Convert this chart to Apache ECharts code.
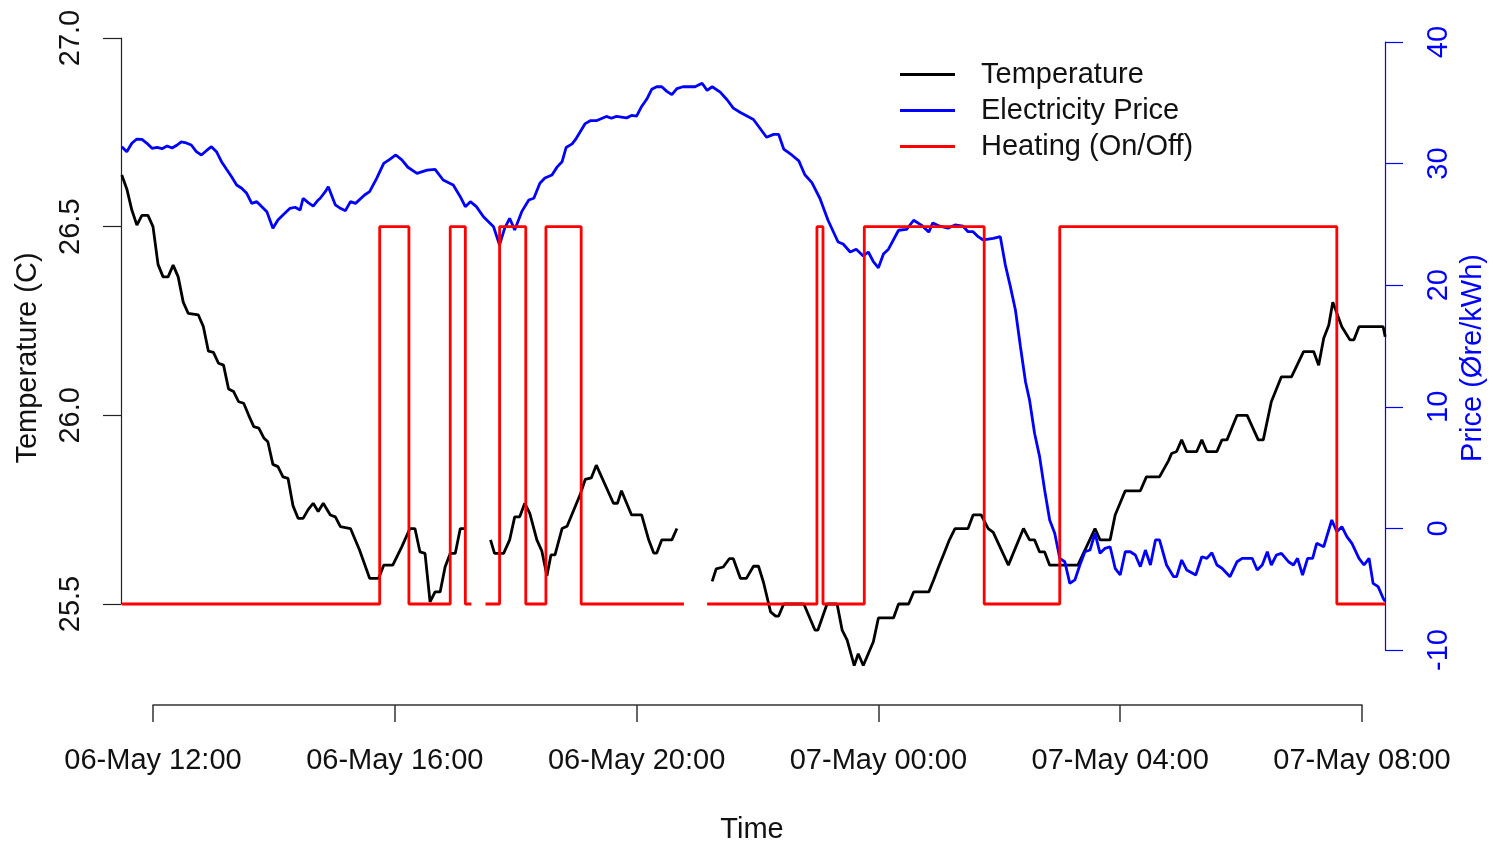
<!DOCTYPE html>
<html><head><meta charset="utf-8">
<script src="https://cdn.jsdelivr.net/npm/echarts@6/dist/echarts.min.js"></script>
<style>html,body{margin:0;padding:0;background:#fff}#c{width:1493px;height:846px}</style>
</head><body><div id="c"></div>
<script>
// x values: minutes after 06-May 12:00
const xTickLabels = ['06-May 12:00','06-May 16:00','06-May 20:00','07-May 00:00','07-May 04:00','07-May 08:00'];
const tempTickLabels = ['25.5','26.0','26.5','27.0'];
const priceTickLabels = ['-10','0','10','20','30','40'];

const tempMinutes = [-31,-26,-21,-16,-11,-5,0,5,10,15,20,25,30,35,45,50,55,60,65,70,75,80,85,90,95,100,105,110,114,119,124,129,134,139,144,149,154,159,164,169,176,181,186,196,205,215,224,229,238,247,255,260,265,270,275,280,285,290,295,300,305,309,313,
335,339,348,354,359,364,369,374,381,386,391,395,399,406,411,424,429,435,440,457,461,465,475,485,492,497,500,505,515,520,530,
555,559,566,572,576,583,589,596,601,606,613,618,621,626,646,657,660,669,679,684,689,696,700,705,715,720,735,740,750,755,770,775,780,785,790,796,809,814,822,829,834,849,864,870,875,880,885,890,918,925,935,940,950,955,965,980,986,999,1008,1011,1016,1021,1026,1036,1041,1046,1056,1061,1066,1076,1086,1097,1102,1110,1120,1130,1142,1152,1157,1162,1167,1171,1180,1188,1192,1197,1221,1223];
const tempValues = [26.637,26.60,26.544,26.504,26.53,26.53,26.50,26.40,26.367,26.367,26.398,26.367,26.30,26.27,26.266,26.235,26.17,26.167,26.138,26.133,26.07,26.063,26.036,26.032,26.0,25.97,25.966,25.94,25.93,25.87,25.864,25.837,25.833,25.76,25.727,25.727,25.75,25.767,25.745,25.767,25.736,25.731,25.705,25.70,25.643,25.568,25.568,25.603,25.603,25.652,25.70,25.70,25.638,25.634,25.506,25.532,25.532,25.599,25.634,25.634,25.70,25.70,null,
25.67,25.634,25.634,25.67,25.731,25.731,25.767,25.74,25.67,25.64,25.575,25.63,25.63,25.70,25.706,25.79,25.83,25.834,25.868,25.767,25.767,25.80,25.736,25.736,25.67,25.635,25.635,25.67,25.67,25.70,null,
25.56,25.593,25.598,25.62,25.62,25.568,25.568,25.60,25.60,25.557,25.479,25.468,25.468,25.5,25.5,25.431,25.431,25.5,25.5,25.431,25.404,25.337,25.368,25.337,25.40,25.463,25.463,25.5,25.5,25.532,25.532,25.565,25.6,25.633,25.667,25.70,25.70,25.736,25.736,25.70,25.69,25.603,25.70,25.67,25.67,25.638,25.638,25.603,25.603,25.643,25.70,25.67,25.67,25.736,25.80,25.80,25.837,25.837,25.88,25.899,25.904,25.935,25.904,25.904,25.935,25.904,25.904,25.935,25.935,26.0,26.0,25.935,25.935,26.036,26.102,26.102,26.169,26.169,26.133,26.204,26.239,26.30,26.235,26.20,26.20,26.235,26.235,26.208];

const priceMinutes = [-31,-26,-21,-16,-11,-6,-1,4,9,14,19,24,28,33,38,43,48,53,58,63,68,73,78,83,88,93,98,103,108,113,119,124,129,136,141,146,149,154,159,164,166,171,174,181,186,191,196,201,210,215,222,229,235,241,247,253,262,272,280,288,298,305,310,315,321,328,338,344,349,354,359,366,373,378,384,389,396,401,406,410,416,420,429,434,440,450,455,460,470,475,480,485,490,495,500,505,510,515,520,526,538,545,550,555,563,570,576,583,596,609,616,621,626,634,641,647,654,662,670,680,685,692,698,705,710,715,720,725,730,740,748,755,763,770,774,781,789,796,804,809,814,819,824,834,841,846,851,856,861,866,870,875,880,885,890,895,900,905,910,915,920,925,930,935,940,945,950,955,960,965,970,975,980,985,990,995,999,1006,1013,1016,1021,1026,1035,1041,1046,1051,1056,1061,1069,1076,1081,1091,1096,1101,1106,1110,1115,1120,1127,1132,1136,1141,1146,1151,1155,1162,1170,1175,1180,1185,1190,1197,1202,1207,1211,1216,1221,1223];
const priceValues = [31.39,30.98,31.67,32.02,32.0,31.67,31.26,31.34,31.23,31.45,31.28,31.53,31.78,31.7,31.53,30.98,30.71,31.06,31.39,30.98,30.16,29.53,28.92,28.24,27.97,27.56,26.73,26.87,26.46,26.05,24.68,25.36,25.77,26.32,26.41,26.18,27.15,26.79,26.51,27.01,27.15,27.69,28.10,26.60,26.32,26.13,26.87,26.73,27.42,27.69,28.79,30.02,30.35,30.71,30.30,29.70,29.20,29.47,29.53,28.65,28.24,27.28,26.46,26.87,26.46,25.63,24.81,23.31,24.68,25.50,24.54,26.05,27.01,27.15,28.38,28.82,29.06,29.71,30.15,31.32,31.62,32.06,33.29,33.53,33.53,33.88,33.73,33.88,33.76,33.96,33.91,34.7,35.29,36.11,36.32,36.32,35.94,35.67,36.17,36.32,36.32,36.61,36.02,36.32,35.88,35.23,34.56,34.2,33.63,32.17,32.40,32.40,31.2,30.71,30.22,29.08,28.43,27.13,25.34,23.55,23.39,22.73,22.96,22.41,22.73,21.93,21.43,22.57,22.96,24.52,24.59,25.34,24.92,24.37,25.12,24.85,24.69,24.95,24.85,24.40,24.40,23.99,23.72,23.85,23.99,21.66,19.88,17.96,14.94,12.06,10.56,7.82,5.90,3.16,0.69,-0.40,-2.46,-2.74,-4.52,-4.24,-3.01,-1.92,-1.78,-0.40,-2.05,-1.64,-1.51,-3.28,-3.83,-1.92,-1.92,-2.19,-3.15,-1.78,-3.01,-0.95,-0.95,-3.01,-3.97,-3.97,-2.6,-3.42,-3.83,-2.33,-2.46,-2.0,-3.01,-3.28,-3.97,-2.74,-2.46,-2.46,-3.42,-3.01,-1.92,-3.01,-2.19,-2.05,-2.74,-3.01,-2.46,-3.83,-2.46,-2.46,-1.23,-1.51,0.69,-0.27,0.14,-0.68,-1.23,-2.46,-3.01,-2.46,-4.52,-4.79,-5.75,-6.0];

// heating state: time at which the state takes this value (1 = on, 0 = off)
const heatMinutes = [-31,225,254,295,310,315,316,330,344,370,390,425,526,527,550,659,665,706,825,900,1175,1223];
const heatStates  = [0,1,0,1,0,0,null,0,1,0,1,0,0,null,0,1,0,1,0,1,0,0];
// heating is drawn on the temperature axis: off -> 25.5, on -> 26.5
const heatOff = 25.5, heatOn = 26.5;

const FONT = '"Liberation Sans", Arial, sans-serif';
const pair = (xs, ys) => xs.map((x, i) => [x, ys[i]]);
const tempData = pair(tempMinutes, tempValues);
const priceData = pair(priceMinutes, priceValues);
const heatData = heatMinutes.map((x, i) => [x, heatStates[i] === null ? null : (heatStates[i] ? heatOn : heatOff)]);

// layout: the time axis runs from x=153 (12:00) to x=1362 (08:00); the plot box spans x=121..1385
const axisLeftPx = 153, axisRightPx = 1362, boxLeftPx = 121, boxRightPx = 1385;
const pxPerMin = (axisRightPx - axisLeftPx) / 1200;
const boxMin = (boxLeftPx - axisLeftPx) / pxPerMin;
const boxMax = (boxRightPx - axisLeftPx) / pxPerMin;
const W = 1493, H = 846;

const chart = echarts.init(document.getElementById('c'), null, {renderer: 'canvas'});
chart.setOption({
  animation: false,
  backgroundColor: '#ffffff',
  textStyle: {fontFamily: FONT},
  grid: [
    {left: boxLeftPx, right: W - boxRightPx, top: 38, height: 566},
    {left: boxLeftPx, right: W - boxRightPx, top: 42, height: 608},
    {left: axisLeftPx, right: W - axisRightPx, top: 600, bottom: H - 705}
  ],
  xAxis: [
    {gridIndex: 0, type: 'value', min: boxMin, max: boxMax, show: false},
    {gridIndex: 1, type: 'value', min: boxMin, max: boxMax, show: false},
    {gridIndex: 2, type: 'value', min: 0, max: 1200, interval: 240, position: 'bottom',
     axisLine: {show: true, onZero: false, lineStyle: {color: '#333', width: 1.5}},
     axisTick: {show: true, length: 17, lineStyle: {color: '#333', width: 1.5}},
     splitLine: {show: false},
     axisLabel: {margin: 41, fontSize: 29, color: '#111', fontFamily: FONT,
       formatter: v => xTickLabels[Math.round(v / 240)]}}
  ],
  yAxis: [
    {gridIndex: 0, type: 'value', position: 'left', min: 25.5, max: 27.0, interval: 0.5,
     axisLine: {show: true, onZero: false, lineStyle: {color: '#222', width: 1.2}},
     axisTick: {show: true, length: 18, lineStyle: {color: '#222', width: 1.2}},
     splitLine: {show: false},
     axisLabel: {rotate: 90, margin: 36, fontSize: 29, color: '#111', fontFamily: FONT,
       formatter: v => tempTickLabels[Math.round((v - 25.5) / 0.5)]}},
    {gridIndex: 1, type: 'value', position: 'right', min: -10, max: 40, interval: 10,
     axisLine: {show: true, onZero: false, lineStyle: {color: '#0000ff', width: 1.2}},
     axisTick: {show: true, length: 18, lineStyle: {color: '#0000ff', width: 1.2}},
     splitLine: {show: false},
     axisLabel: {rotate: 90, margin: 39, fontSize: 29, color: '#0000ff', fontFamily: FONT,
       formatter: v => priceTickLabels[Math.round((v + 10) / 10)]}},
    {gridIndex: 2, type: 'value', show: false}
  ],
  legend: {
    orient: 'vertical', left: 900, top: 60, padding: 0, itemWidth: 55, itemHeight: 3, itemGap: 7,
    icon: 'rect',
    textStyle: {fontSize: 29, lineHeight: 29, color: '#111', fontFamily: FONT, padding: [0, 0, 0, 21]},
    data: ['Temperature', 'Electricity Price', 'Heating (On/Off)']
  },
  graphic: [
    {type: 'text', x: 28, y: 358, rotation: Math.PI / 2,
     style: {text: 'Temperature (C)', font: '29px ' + FONT, fill: '#111', textAlign: 'center', textVerticalAlign: 'middle'}},
    {type: 'text', x: 1473, y: 358, rotation: Math.PI / 2,
     style: {text: 'Price (Øre/kWh)', font: '29px ' + FONT, fill: '#0000ff', textAlign: 'center', textVerticalAlign: 'middle'}},
    {type: 'text', x: 752, y: 830,
     style: {text: 'Time', font: '29px ' + FONT, fill: '#111', textAlign: 'center', textVerticalAlign: 'middle'}}
  ],
  series: [
    {name: 'Temperature', type: 'line', xAxisIndex: 0, yAxisIndex: 0, data: tempData,
     symbol: 'none', clip: false, connectNulls: false, color: '#000000',
     lineStyle: {color: '#000000', width: 2.8}},
    {name: 'Electricity Price', type: 'line', xAxisIndex: 1, yAxisIndex: 1, data: priceData,
     symbol: 'none', clip: false, color: '#0000ff',
     lineStyle: {color: '#0000ff', width: 2.8}},
    {name: 'Heating (On/Off)', type: 'line', xAxisIndex: 0, yAxisIndex: 0, data: heatData,
     symbol: 'none', clip: false, step: 'end', connectNulls: false, color: '#ff0000',
     lineStyle: {color: '#ff0000', width: 2.8}}
  ]
});
</script></body></html>
